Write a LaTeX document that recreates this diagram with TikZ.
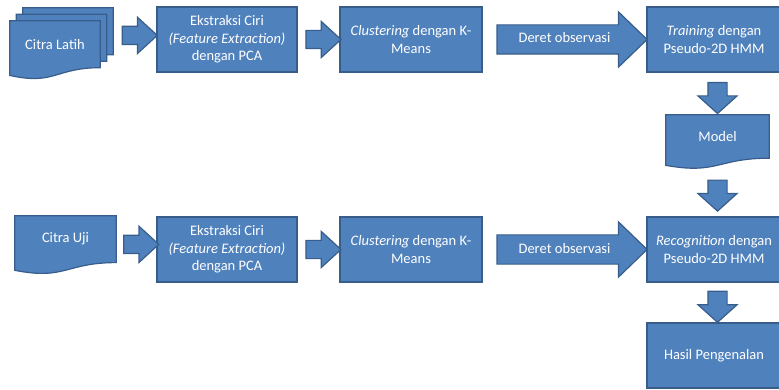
\documentclass[tikz,border=0pt]{standalone}
\usepackage{fontspec}
\setmainfont{Carlito}
\definecolor{blue1}{RGB}{79, 129, 189}
\definecolor{blue2}{RGB}{56, 93, 138}
\usetikzlibrary{shapes, shapes.arrows, arrows.meta, positioning, calc, backgrounds}

% wavy document outline round a node (node = text area)
\newcommand{\docoutline}[1]{%
  \path[docline] (#1.north west) -- (#1.north east) -- (#1.south east)
    .. controls (#1.south) and ($(#1.south)!-0.38!(#1.north)$)
    .. ($(#1.south west)!-0.165!(#1.north west)$) -- cycle;}

\begin{document}
\begin{tikzpicture}[x=1pt, y=-1pt,
  every node/.style={font=\fontsize{14.5}{17.5}\selectfont, text=white},
  procbox/.style={draw=blue2, fill=blue1, line width=1.2pt, minimum width=140pt, minimum height=65pt, align=center, inner sep=2pt},
  docbox/.style={inner sep=0pt, align=center},
  docline/.style={draw=blue2, fill=blue1, line width=1.2pt},
  blockarrow/.style={single arrow, draw=blue2, fill=blue1, line width=1.2pt, inner xsep=0pt, minimum width=0pt},
  smallarrow/.style={blockarrow, minimum height=35pt, inner ysep=8.5pt, single arrow head extend=9pt, single arrow tip angle=85},
  bigarrow/.style={blockarrow, minimum height=150pt, text height=10pt, text depth=3pt, inner ysep=7.5pt, single arrow head extend=13pt, single arrow tip angle=88},
  downarrow/.style={blockarrow, minimum height=31pt, inner xsep=9pt, inner ysep=0pt, single arrow head extend=10pt, single arrow tip angle=96, shape border rotate=270}
]
  \useasboundingbox (0,0) rectangle (779,390);
  \clip (0,0) rectangle (779,390);

  % training row
  \node[docbox, minimum width=90pt, minimum height=46.5pt] (latihc) at (68,31.25) {};
  \node[docbox, minimum width=90pt, minimum height=46.5pt] (latihb) at (61.5,37.75) {};
  \node[docbox, minimum width=90pt, minimum height=46.5pt] (latih) at (55,44.25) {Citra Latih};
  \node[procbox] (ekstrak1) at (227,39.5) {Ekstraksi Ciri\\\textit{(Feature Extraction)}\\dengan PCA};
  \node[procbox, minimum width=142pt] (cluster1) at (411,39.5) {\textit{Clustering} dengan K-\\Means};
  \node[procbox, minimum width=134pt] (training) at (714,39.5) {\textit{Training} dengan\\Pseudo-2D HMM};
  \node[docbox, minimum width=103pt, minimum height=43pt] (model) at (717.5,136.5) {Model};

  % testing row
  \node[docbox, minimum width=101pt, minimum height=46.4pt] (uji) at (65.5,239.2) {Citra Uji};
  \node[procbox] (ekstrak2) at (227,249.5) {Ekstraksi Ciri\\\textit{(Feature Extraction)}\\dengan PCA};
  \node[procbox, minimum width=142pt] (cluster2) at (411,249.5) {\textit{Clustering} dengan K-\\Means};
  \node[procbox, minimum width=134pt] (recog) at (714,249.5) {\textit{Recognition} dengan\\Pseudo-2D HMM};
  \node[procbox, minimum width=134pt] (hasil) at (714,355.5) {Hasil Pengenalan};

  \begin{scope}[on background layer]
    \docoutline{latihc} \docoutline{latihb} \docoutline{latih}
    \docoutline{model} \docoutline{uji}
  \end{scope}

  % block arrows
  \node[smallarrow] (a1) at ($(latihc.east)!0.5!(ekstrak1.west)$) {};
  \node[smallarrow] (a2) at ($(ekstrak1.east)!0.5!(cluster1.west)$) {};
  \node[bigarrow] (deret1) at ($(cluster1.east)!0.5!(training.west)$) {Deret observasi};
  \node[downarrow] (d1) at ($(model.north)!0.5!(model.north|-training.south)$) {};
  \node[downarrow] (d2) at ($(model.south)!0.5!(model.south|-recog.north) + (0,4)$) {};
  \node[smallarrow] (b1) at ($(uji.east)!0.5!(ekstrak2.west)$) {};
  \node[smallarrow] (b2) at ($(ekstrak2.east)!0.5!(cluster2.west)$) {};
  \node[bigarrow] (deret2) at ($(cluster2.east)!0.5!(recog.west)$) {Deret observasi};
  \node[downarrow] (d3) at ($(recog.south-|model.south)!0.5!(hasil.north-|model.south)$) {};
\end{tikzpicture}
\end{document}
